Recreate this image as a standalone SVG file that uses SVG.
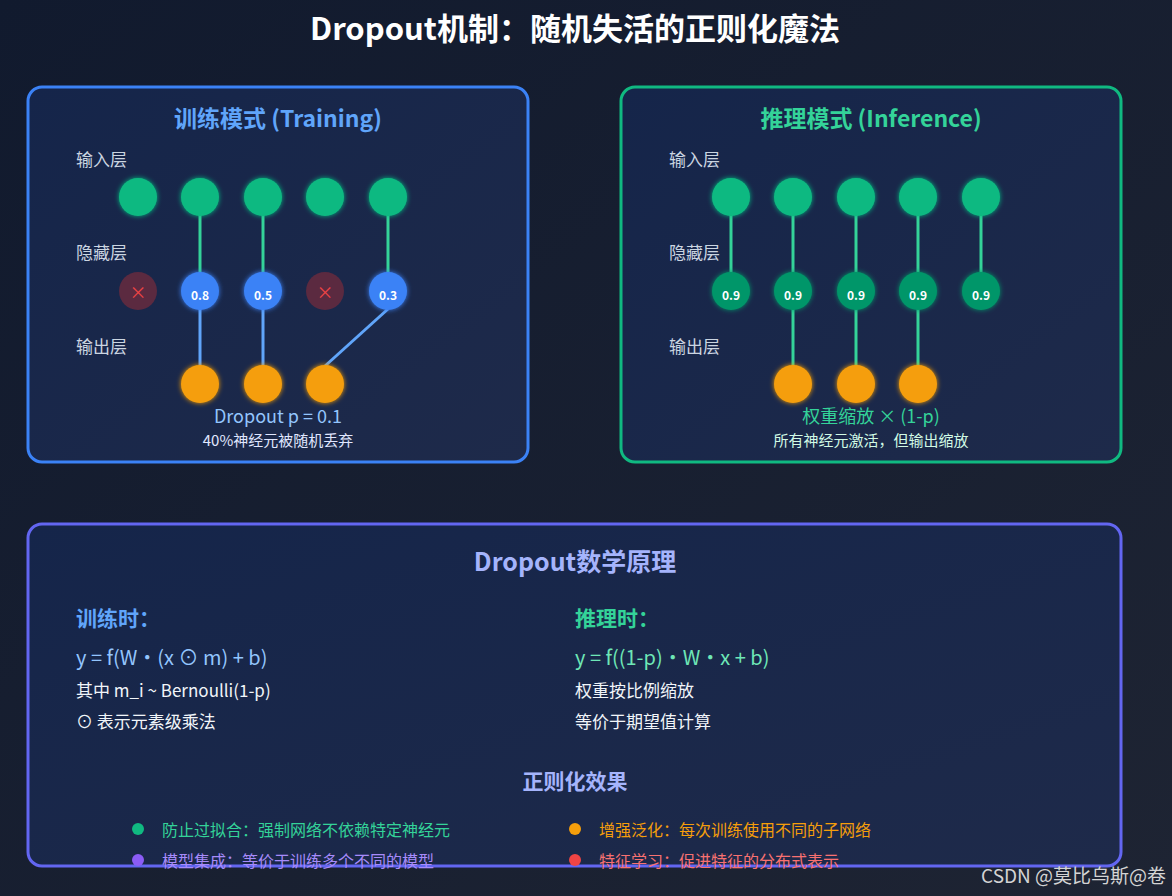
<svg xmlns="http://www.w3.org/2000/svg" width="1172" height="896" viewBox="0 0 1172 896">
<defs>
<linearGradient id="bg" x1="0" y1="0" x2="1" y2="1"><stop offset="0" stop-color="#111a2e"/><stop offset="1" stop-color="#1e2433"/></linearGradient>
<linearGradient id="pf" x1="0" y1="0" x2="1" y2="1"><stop offset="0" stop-color="#15254a"/><stop offset="1" stop-color="#1e2a4a"/></linearGradient>
<filter id="glow" x="-50%" y="-50%" width="200%" height="200%"><feGaussianBlur stdDeviation="2.5" result="b"/><feMerge><feMergeNode in="b"/><feMergeNode in="SourceGraphic"/></feMerge></filter>
<style>
text{font-family:"Noto Sans CJK SC","Noto Sans",sans-serif}
.lab{font-size:17px;fill:#cbd5e1}
.in{fill:#10b981;filter:url(#glow)}
.out{fill:#f59e0b;filter:url(#glow)}
.hb{fill:#3b82f6;filter:url(#glow)}
.hg{fill:#059669;filter:url(#glow)}
.hd{fill:#5b2a40}
.nv{font-size:12px;fill:#fff;text-anchor:middle;font-weight:bold}
.x{font-size:17px;fill:#ef4444;text-anchor:middle}
.g{stroke:#34d399;stroke-width:3}
.b{stroke:#60a5fa;stroke-width:3}
.bul{font-size:16px}
</style>
</defs>
<rect width="1172" height="896" fill="url(#bg)"/>
<text x="575" y="40" text-anchor="middle" font-size="31" font-weight="bold" fill="#fff">Dropout机制：随机失活的正则化魔法</text>

<g id="training">
<rect x="28" y="87" width="500" height="375" rx="14" fill="url(#pf)" stroke="#3b82f6" stroke-width="3"/>
<text x="278" y="127" text-anchor="middle" font-size="23" font-weight="bold" fill="#60a5fa">训练模式 (Training)</text>
<text x="76" y="166" class="lab">输入层</text>
<text x="76" y="259" class="lab">隐藏层</text>
<text x="76" y="353" class="lab">输出层</text>
<g id="t-conn">
<line x1="200" y1="214" x2="200" y2="274" class="g"/><line x1="263" y1="214" x2="263" y2="274" class="g"/><line x1="388" y1="214" x2="388" y2="274" class="g"/>
<line x1="200" y1="308" x2="200" y2="368" class="b"/><line x1="263" y1="308" x2="263" y2="368" class="b"/><line x1="388" y1="309" x2="325" y2="366" class="b"/>
</g>
<circle cx="138" cy="197" r="19" class="in"/><circle cx="200" cy="197" r="19" class="in"/><circle cx="263" cy="197" r="19" class="in"/><circle cx="325" cy="197" r="19" class="in"/><circle cx="388" cy="197" r="19" class="in"/>
<circle cx="138" cy="291" r="19" class="hd"/><text x="138" y="299" class="x">×</text>
<circle cx="200" cy="291" r="19" class="hb"/><text x="200" y="300" class="nv">0.8</text>
<circle cx="263" cy="291" r="19" class="hb"/><text x="263" y="300" class="nv">0.5</text>
<circle cx="325" cy="291" r="19" class="hd"/><text x="325" y="299" class="x">×</text>
<circle cx="388" cy="291" r="19" class="hb"/><text x="388" y="300" class="nv">0.3</text>
<circle cx="200" cy="384" r="19" class="out"/><circle cx="263" cy="384" r="19" class="out"/><circle cx="325" cy="384" r="19" class="out"/>
<text x="278" y="423" text-anchor="middle" font-size="18" fill="#93c5fd">Dropout p = 0.1</text>
<text x="278" y="446" text-anchor="middle" font-size="15" fill="#e0e7ff">40%神经元被随机丢弃</text>
</g>

<g id="inference">
<rect x="621" y="87" width="500" height="375" rx="14" fill="url(#pf)" stroke="#10b981" stroke-width="3"/>
<text x="871" y="127" text-anchor="middle" font-size="23" font-weight="bold" fill="#34d399">推理模式 (Inference)</text>
<text x="669" y="166" class="lab">输入层</text>
<text x="669" y="259" class="lab">隐藏层</text>
<text x="669" y="353" class="lab">输出层</text>
<g id="i-conn">
<line x1="731" y1="214" x2="731" y2="274" class="g"/><line x1="793" y1="214" x2="793" y2="274" class="g"/><line x1="856" y1="214" x2="856" y2="274" class="g"/><line x1="918" y1="214" x2="918" y2="274" class="g"/><line x1="981" y1="214" x2="981" y2="274" class="g"/>
<line x1="793" y1="308" x2="793" y2="368" class="g"/><line x1="856" y1="308" x2="856" y2="368" class="g"/><line x1="918" y1="308" x2="918" y2="368" class="g"/>
</g>
<circle cx="731" cy="197" r="19" class="in"/><circle cx="793" cy="197" r="19" class="in"/><circle cx="856" cy="197" r="19" class="in"/><circle cx="918" cy="197" r="19" class="in"/><circle cx="981" cy="197" r="19" class="in"/>
<circle cx="731" cy="291" r="19" class="hg"/><text x="731" y="300" class="nv">0.9</text>
<circle cx="793" cy="291" r="19" class="hg"/><text x="793" y="300" class="nv">0.9</text>
<circle cx="856" cy="291" r="19" class="hg"/><text x="856" y="300" class="nv">0.9</text>
<circle cx="918" cy="291" r="19" class="hg"/><text x="918" y="300" class="nv">0.9</text>
<circle cx="981" cy="291" r="19" class="hg"/><text x="981" y="300" class="nv">0.9</text>
<circle cx="793" cy="384" r="19" class="out"/><circle cx="856" cy="384" r="19" class="out"/><circle cx="918" cy="384" r="19" class="out"/>
<text x="871" y="423" text-anchor="middle" font-size="18" fill="#34d399">权重缩放 × (1-p)</text>
<text x="871" y="446" text-anchor="middle" font-size="15" fill="#d1fae5">所有神经元激活，但输出缩放</text>
</g>

<g id="math">
<rect x="28" y="524" width="1093" height="342" rx="14" fill="url(#pf)" stroke="#6366f1" stroke-width="3"/>
<text x="575" y="571" text-anchor="middle" font-size="25" font-weight="bold" fill="#a5b4fc">Dropout数学原理</text>
<text x="76" y="626" font-size="21" font-weight="bold" fill="#60a5fa">训练时：</text>
<text x="76" y="665" font-size="20" fill="#93c5fd">y = f(W・(x ⊙ m) + b)</text>
<text x="76" y="697" font-size="17" fill="#f1f5f9">其中 m_i ~ Bernoulli(1-p)</text>
<text x="76" y="728" font-size="17" fill="#f1f5f9">⊙ 表示元素级乘法</text>
<text x="575" y="626" font-size="21" font-weight="bold" fill="#34d399">推理时：</text>
<text x="575" y="665" font-size="20" fill="#6ee7b7">y = f((1-p)・W・x + b)</text>
<text x="575" y="697" font-size="17" fill="#f1f5f9">权重按比例缩放</text>
<text x="575" y="728" font-size="17" fill="#f1f5f9">等价于期望值计算</text>
<text x="575" y="789" text-anchor="middle" font-size="21" font-weight="bold" fill="#a5b4fc">正则化效果</text>
<circle cx="138" cy="829" r="6" fill="#10b981"/><text x="162" y="836" class="bul" fill="#34d399">防止过拟合：强制网络不依赖特定神经元</text>
<circle cx="575" cy="829" r="6" fill="#f59e0b"/><text x="599" y="836" class="bul" fill="#f59e0b">增强泛化：每次训练使用不同的子网络</text>
<circle cx="138" cy="860" r="6" fill="#8b5cf6"/><text x="162" y="867" class="bul" fill="#a78bfa">模型集成：等价于训练多个不同的模型</text>
<circle cx="575" cy="860" r="6" fill="#ef4444"/><text x="599" y="867" class="bul" fill="#f87171">特征学习：促进特征的分布式表示</text>
</g>
<text x="1166" y="883" text-anchor="end" font-size="19" fill="#d4d4d4" font-family="Liberation Sans, Noto Sans CJK SC, sans-serif">CSDN @莫比乌斯@卷</text>
</svg>
